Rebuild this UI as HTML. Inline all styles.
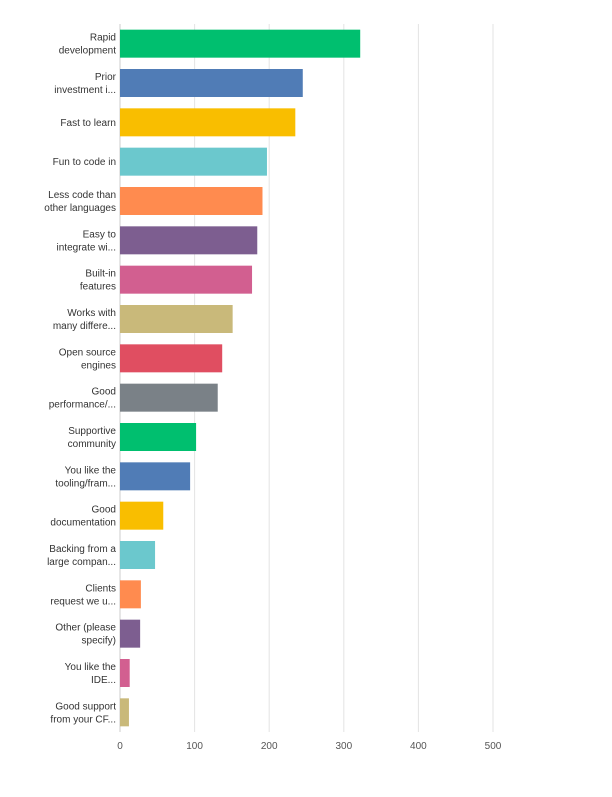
<!DOCTYPE html>
<html><head><meta charset="utf-8"><style>
body{margin:0;background:#fff;width:612px;height:792px;overflow:hidden;font-family:"Liberation Sans",sans-serif}
</style></head><body>
<svg width="612" height="792" id="chart"></svg>
<script>
const categories=[["Rapid","development"],["Prior","investment i..."],["Fast to learn"],["Fun to code in"],["Less code than","other languages"],["Easy to","integrate wi..."],["Built-in","features"],["Works with","many differe..."],["Open source","engines"],["Good","performance/..."],["Supportive","community"],["You like the","tooling/fram..."],["Good","documentation"],["Backing from a","large compan..."],["Clients","request we u..."],["Other (please","specify)"],["You like the","IDE..."],["Good support","from your CF..."]];
const values=[322,245,235,197,191,184,177,151,137,131,102,94,58,47,28,27,13,12];
const ticks=[0,100,200,300,400,500];
const colors=["#00bf6f","#507cb6","#f9be00","#6bc8cd","#ff8b4f","#7d5e90","#d25f90","#c9b97a","#e04e61","#7a8187"];
const svgEl=document.getElementById('chart');const NS="http://www.w3.org/2000/svg";
const x0=120,x1=493,yTop=24,yBottom=732,maxV=500;
const xs=v=>x0+v/maxV*(x1-x0);
const step=(yBottom-yTop)/categories.length;
function mk(t,a){const e=document.createElementNS(NS,t);for(const k in a)e.setAttribute(k,a[k]);svgEl.appendChild(e);return e;}
ticks.forEach(t=>{
 const g=mk('line',{x1:xs(t),x2:xs(t),y1:yTop,y2:yBottom,stroke:t===0?'#ccc':'#e3e3e3','stroke-width':1});
 
 
 const l=mk('text',{x:xs(t),y:749,'text-anchor':'middle','font-size':10,fill:'#555'});l.textContent=t;
 
 
});
categories.forEach((c,i)=>{
 const cy=yTop+step*(i+0.5);
 const b=mk('rect',{x:x0,y:cy-14,width:xs(values[i])-x0,height:28,fill:colors[i%colors.length]});
 
 
 const t=mk('text',{x:116,'text-anchor':'end','font-size':10,fill:'#333'});
 
 
 const y0=c.length===1?cy+3.5:cy-3;
 c.forEach((s,j)=>{const ts=document.createElementNS(NS,'tspan');ts.setAttribute('x',116);ts.setAttribute('y',y0+j*13);ts.textContent=s;t.appendChild(ts);});
});
</script>
</body></html>
